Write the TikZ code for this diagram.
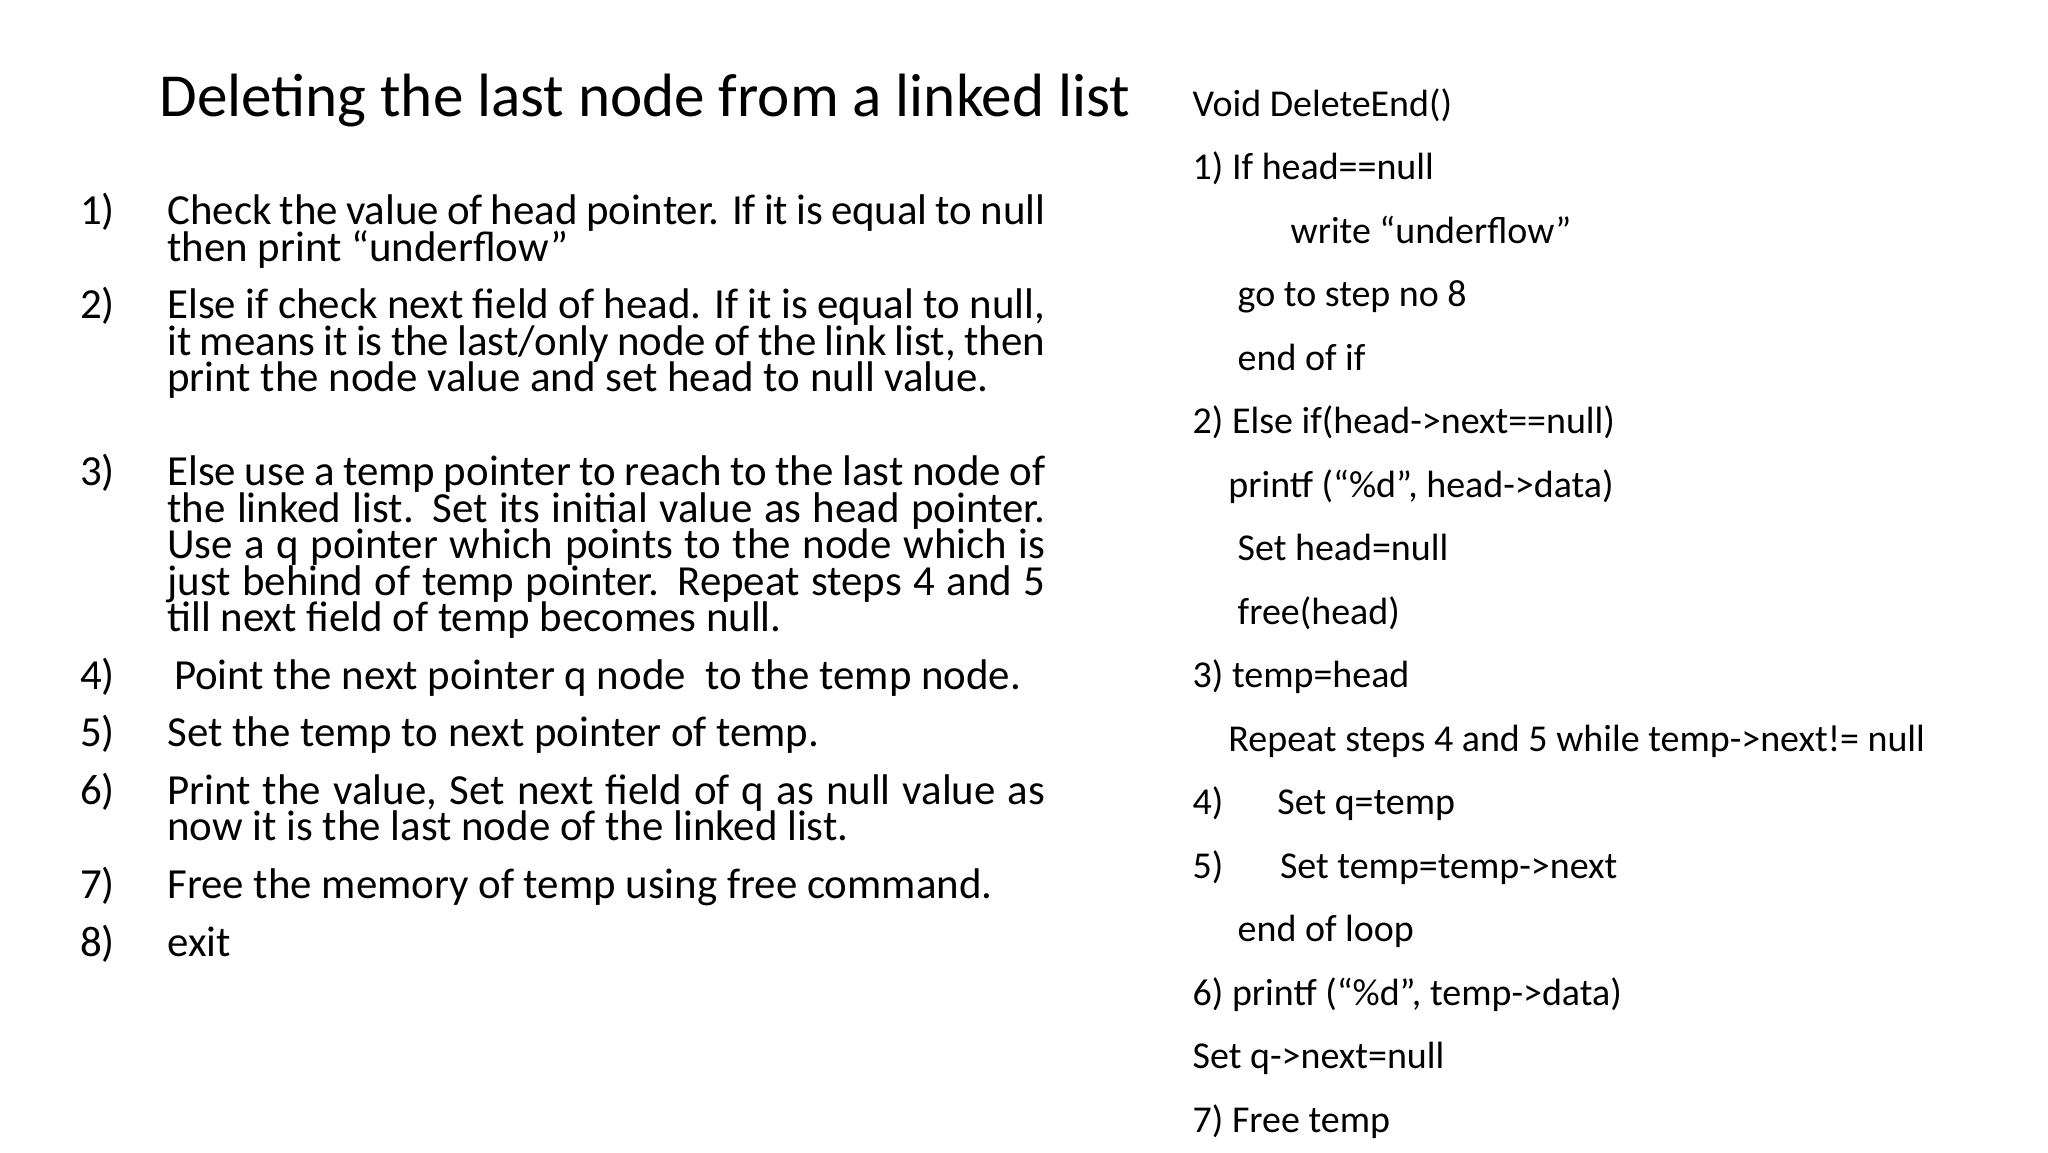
\documentclass[tikz,border=0pt]{standalone}
\usepackage{fontspec}
\setmainfont{Carlito}
\begin{document}
\begin{tikzpicture}[x=0.01323cm,y=-0.01323cm,
  num/.style={anchor=base west,inner sep=0pt,font=\fontsize{12.2}{10.5}\selectfont},
  item/.style={anchor=north west,inner sep=0pt,text width=8.78cm,align=justify,font={\fontsize{12.2}{10.4}\selectfont},execute at begin node={\lineskiplimit=-20pt\lineskip=0pt\relax}},
  code/.style={anchor=base west,inner sep=0pt,font=\fontsize{10.8}{13}\selectfont}]
\useasboundingbox (0,0) rectangle (1548,871);
\node[anchor=base west,inner sep=0pt,font=\fontsize{17.4}{20}\selectfont] (title) at (120,88) {Deleting the last node from a linked list};
\foreach \n/\y in {1/170,2/241,3/367,4/521,5/564,6/608,7/679,8/723}{\node[num] (n\n) at (60,\y) {\n)};}
\node[item] (i1) at (126,147) {Check the value of head pointer. If it is equal to null then print “underflow”};
\node[item] (i2) at (126,218) {Else if check next field of head. If it is equal to null, it means it is the last/only node of the link list, then print the node value and set head to null value.};
\node[item] (i3) at (126,344) {Else use a temp pointer to reach to the last node of the linked list. Set its initial value as head pointer. Use a q pointer which points to the node which is just behind of temp pointer. Repeat steps 4 and 5 till next field of temp becomes null.};
\node[num] (i4) at (131,521) {Point the next pointer q node\ \ to the temp node.};
\node[num] (i5) at (126,564) {Set the temp to next pointer of temp.};
\node[item] (i6) at (126,585) {Print the value, Set next field of q as null value as now it is the last node of the linked list.};
\node[num] (i7) at (126,679) {Free the memory of temp using free command.};
\node[num] (i8) at (126,723) {exit};
\node[code] (c0) at (901,88) {Void DeleteEnd()};
\node[code] (c1) at (901,136) {1) If head==null};
\node[code] (c2) at (975,184) {write “underflow”};
\node[code] (c3) at (935,232) {go to step no 8};
\node[code] (c4) at (935,280) {end of if};
\node[code] (c5) at (901,328) {2) Else if(head->next==null)};
\node[code] (c6) at (928,376) {printf (“\%d”, head->data)};
\node[code] (c7) at (935,424) {Set head=null};
\node[code] (c8) at (935,472) {free(head)};
\node[code] (c9) at (901,520) {3) temp=head};
\node[code] (c10) at (928,568) {Repeat steps 4 and 5 while temp->next!= null};
\node[code] (c11a) at (901,616) {4)};
\node[code] (c11) at (965,616) {Set q=temp};
\node[code] (c12a) at (901,664) {5)};
\node[code] (c12) at (967,664) {Set temp=temp->next};
\node[code] (c13) at (935,712) {end of loop};
\node[code] (c14) at (901,760) {6) printf (“\%d”, temp->data)};
\node[code] (c15) at (901,808) {Set q->next=null};
\node[code] (c16) at (901,856) {7) Free temp};
\end{tikzpicture}
\end{document}
